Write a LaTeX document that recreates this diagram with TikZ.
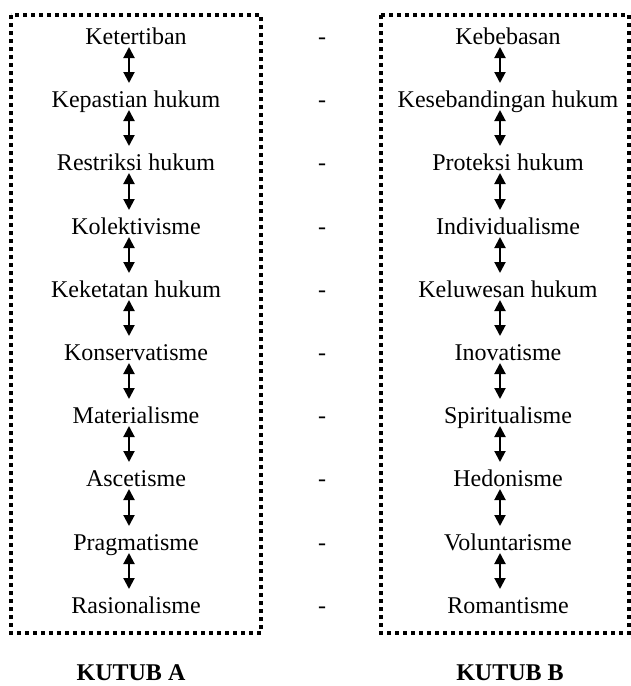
\documentclass[tikz,border=0pt]{standalone}
\usepackage{fontspec}
\setmainfont{Liberation Serif}
\usetikzlibrary{arrows.meta}

\tikzset{
  item/.style={anchor=base, inner sep=0pt, font=\fontsize{24}{28}\selectfont},
  pole/.style={item, font=\fontsize{24}{28}\selectfont\bfseries},
  dotbox/.style={line width=3.6pt, dash pattern=on 3.6pt off 4.4pt},
  biarrow/.style={{Triangle[width=11pt,length=11pt]}-{Triangle[width=11pt,length=11pt]}, line width=2pt}
}

\begin{document}
\begin{tikzpicture}[x=1pt, y=-1pt]
      \useasboundingbox (0,0) rectangle (631,686);
      \draw[dotbox] (11,15) rectangle (261,633);
      \draw[dotbox] (381,15) rectangle (629,633);
      % kutub A
      \node[item] (l1) at (136,44) {Ketertiban};
      \node[item] (l2) at (136,107) {Kepastian hukum};
      \node[item] (l3) at (136,170) {Restriksi hukum};
      \node[item] (l4) at (136,234) {Kolektivisme};
      \node[item] (l5) at (136,297) {Keketatan hukum};
      \node[item] (l6) at (136,360) {Konservatisme};
      \node[item] (l7) at (136,423) {Materialisme};
      \node[item] (l8) at (136,486) {Ascetisme};
      \node[item] (l9) at (136,550) {Pragmatisme};
      \node[item] (l10) at (136,613) {Rasionalisme};
      % kutub B
      \node[item] (r1) at (508,44) {Kebebasan};
      \node[item] (r2) at (508,107) {Kesebandingan hukum};
      \node[item] (r3) at (508,170) {Proteksi hukum};
      \node[item] (r4) at (508,234) {Individualisme};
      \node[item] (r5) at (508,297) {Keluwesan hukum};
      \node[item] (r6) at (508,360) {Inovatisme};
      \node[item] (r7) at (508,423) {Spiritualisme};
      \node[item] (r8) at (508,486) {Hedonisme};
      \node[item] (r9) at (508,550) {Voluntarisme};
      \node[item] (r10) at (508,613) {Romantisme};
      % tanda pisah
      \node[item] (d1) at (322,44) {-};
      \node[item] (d2) at (322,107) {-};
      \node[item] (d3) at (322,170) {-};
      \node[item] (d4) at (322,234) {-};
      \node[item] (d5) at (322,297) {-};
      \node[item] (d6) at (322,360) {-};
      \node[item] (d7) at (322,423) {-};
      \node[item] (d8) at (322,486) {-};
      \node[item] (d9) at (322,550) {-};
      \node[item] (d10) at (322,613) {-};
      % panah
      \draw[biarrow] ([xshift=-7pt,yshift=-3pt]l1.base) -- ([xshift=-7pt,yshift=24pt]l2.base);
      \draw[biarrow] ([xshift=-7pt,yshift=-3pt]l2.base) -- ([xshift=-7pt,yshift=24pt]l3.base);
      \draw[biarrow] ([xshift=-7pt,yshift=-3pt]l3.base) -- ([xshift=-7pt,yshift=24pt]l4.base);
      \draw[biarrow] ([xshift=-7pt,yshift=-3pt]l4.base) -- ([xshift=-7pt,yshift=24pt]l5.base);
      \draw[biarrow] ([xshift=-7pt,yshift=-3pt]l5.base) -- ([xshift=-7pt,yshift=24pt]l6.base);
      \draw[biarrow] ([xshift=-7pt,yshift=-3pt]l6.base) -- ([xshift=-7pt,yshift=24pt]l7.base);
      \draw[biarrow] ([xshift=-7pt,yshift=-3pt]l7.base) -- ([xshift=-7pt,yshift=24pt]l8.base);
      \draw[biarrow] ([xshift=-7pt,yshift=-3pt]l8.base) -- ([xshift=-7pt,yshift=24pt]l9.base);
      \draw[biarrow] ([xshift=-7pt,yshift=-3pt]l9.base) -- ([xshift=-7pt,yshift=24pt]l10.base);
      \draw[biarrow] ([xshift=-8pt,yshift=-3pt]r1.base) -- ([xshift=-8pt,yshift=24pt]r2.base);
      \draw[biarrow] ([xshift=-8pt,yshift=-3pt]r2.base) -- ([xshift=-8pt,yshift=24pt]r3.base);
      \draw[biarrow] ([xshift=-8pt,yshift=-3pt]r3.base) -- ([xshift=-8pt,yshift=24pt]r4.base);
      \draw[biarrow] ([xshift=-8pt,yshift=-3pt]r4.base) -- ([xshift=-8pt,yshift=24pt]r5.base);
      \draw[biarrow] ([xshift=-8pt,yshift=-3pt]r5.base) -- ([xshift=-8pt,yshift=24pt]r6.base);
      \draw[biarrow] ([xshift=-8pt,yshift=-3pt]r6.base) -- ([xshift=-8pt,yshift=24pt]r7.base);
      \draw[biarrow] ([xshift=-8pt,yshift=-3pt]r7.base) -- ([xshift=-8pt,yshift=24pt]r8.base);
      \draw[biarrow] ([xshift=-8pt,yshift=-3pt]r8.base) -- ([xshift=-8pt,yshift=24pt]r9.base);
      \draw[biarrow] ([xshift=-8pt,yshift=-3pt]r9.base) -- ([xshift=-8pt,yshift=24pt]r10.base);
      % judul
      \node[pole] (ka) at (131,680) {KUTUB A};
      \node[pole] (kb) at (510,680) {KUTUB B};
    \end{tikzpicture}
\end{document}
